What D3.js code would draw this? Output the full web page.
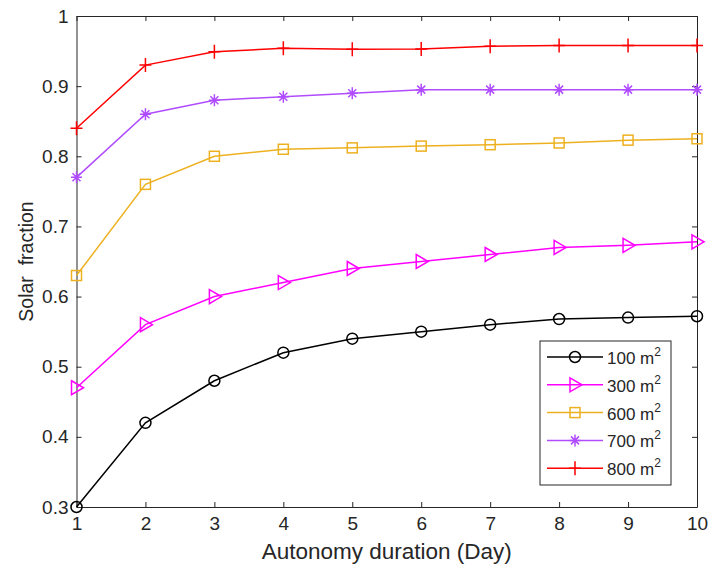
<!DOCTYPE html>
<html>
<head>
<meta charset="utf-8">
<script src="https://cdn.jsdelivr.net/npm/d3@7"></script>
<style>
  body { margin: 0; background: #fff; }
  text { font-family: "Liberation Sans", Arial, sans-serif; fill: #262626; }
</style>
</head>
<body>
<div id="chart"></div>
<script>
// Data
var days = [1, 2, 3, 4, 5, 6, 7, 8, 9, 10];
var area100 = [0.30, 0.42, 0.48, 0.52, 0.54, 0.55, 0.56, 0.568, 0.57, 0.572];
var area300 = [0.47, 0.56, 0.60, 0.62, 0.64, 0.65, 0.66, 0.67, 0.673, 0.678];
var area600 = [0.63, 0.76, 0.80, 0.81, 0.812, 0.8145, 0.8165, 0.819, 0.823, 0.825];
var area700 = [0.77, 0.86, 0.88, 0.885, 0.89, 0.895, 0.895, 0.895, 0.895, 0.895];
var area800 = [0.84, 0.93, 0.949, 0.954, 0.9525, 0.953, 0.957, 0.958, 0.958, 0.958];
var seriesNames = ["100", "300", "600", "700", "800"];
var yTicks = [0.3, 0.4, 0.5, 0.6, 0.7, 0.8, 0.9, 1];

var series = [
  { name: seriesNames[0], values: area100, color: "#000000", marker: "circle" },
  { name: seriesNames[1], values: area300, color: "#ff00ff", marker: "triangle" },
  { name: seriesNames[2], values: area600, color: "#edb120", marker: "square" },
  { name: seriesNames[3], values: area700, color: "#b04cff", marker: "star" },
  { name: seriesNames[4], values: area800, color: "#ff0000", marker: "plus" }
];

var svgWidth = 713;
var svgHeight = 570;
var margin = { top: 16, right: 16, bottom: 63, left: 76.5 };
var width = svgWidth - margin.left - margin.right;
var height = svgHeight - margin.top - margin.bottom;

var svg = d3.select("#chart")
  .append("svg")
  .attr("width", svgWidth)
  .attr("height", svgHeight);

var chart = svg.append("g")
  .attr("transform", `translate(${margin.left}, ${margin.top})`);

var x = d3.scaleLinear().domain([1, 10]).range([0, width]);
var y = d3.scaleLinear().domain([0.3, 1]).range([height, 0]);

// axes with inward ticks
var bottomAxis = d3.axisBottom(x).tickValues(days).tickSizeInner(-5).tickSizeOuter(0).tickPadding(10);
var leftAxis = d3.axisLeft(y).tickValues(yTicks).tickSizeInner(-5).tickSizeOuter(0).tickPadding(8)
  .tickFormat(d3.format("~g"));
var topAxis = d3.axisTop(x).tickValues(days).tickSizeInner(-5).tickSizeOuter(0).tickFormat("");
var rightAxis = d3.axisRight(y).tickValues(yTicks).tickSizeInner(-5).tickSizeOuter(0).tickFormat("");

function styleAxis(g) {
  g.selectAll("path").attr("stroke", "#262626").attr("stroke-width", 1);
  g.selectAll("line").attr("stroke", "#262626").attr("stroke-width", 1);
  g.selectAll("text").style("font-size", "19px").attr("fill", "#262626");
}

chart.append("g").attr("transform", `translate(0, ${height})`).call(bottomAxis).call(styleAxis);
chart.append("g").call(leftAxis).call(styleAxis);
chart.append("g").call(topAxis).call(styleAxis);
chart.append("g").attr("transform", `translate(${width}, 0)`).call(rightAxis).call(styleAxis);

// marker drawing
function drawMarker(g, type, color) {
  if (type === "circle") {
    g.append("circle").attr("r", 5.5).attr("fill", "none").attr("stroke", color).attr("stroke-width", 1.5);
  } else if (type === "triangle") {
    g.append("path").attr("d", "M-5,-7L7,0L-5,7Z").attr("fill", "none").attr("stroke", color).attr("stroke-width", 1.5);
  } else if (type === "square") {
    g.append("rect").attr("x", -5).attr("y", -5).attr("width", 10).attr("height", 10)
      .attr("fill", "none").attr("stroke", color).attr("stroke-width", 1.5);
  } else if (type === "star") {
    g.append("path").attr("d", "M-5.5,0H5.5M0,-6V6M-4,-4L4,4M-4,4L4,-4")
      .attr("stroke", color).attr("stroke-width", 1.5);
  } else if (type === "plus") {
    g.append("path").attr("d", "M-6,0H6M0,-7V7").attr("stroke", color).attr("stroke-width", 1.5);
  }
}

var line = d3.line()
  .x(function(d, i) { return x(days[i]); })
  .y(function(d) { return y(d); });

series.forEach(function(s) {
  chart.append("path")
    .datum(s.values)
    .attr("d", line)
    .attr("fill", "none")
    .attr("stroke", s.color)
    .attr("stroke-width", 1.5);

  s.values.forEach(function(v, i) {
    var g = chart.append("g").attr("transform", `translate(${x(days[i])}, ${y(v)})`);
    drawMarker(g, s.marker, s.color);
  });
});

// legend
var legend = svg.append("g").attr("transform", "translate(540, 341)");
legend.append("rect")
  .attr("width", 131).attr("height", 144)
  .attr("fill", "#fff").attr("stroke", "#262626").attr("stroke-width", 1);

series.forEach(function(s, i) {
  var row = legend.append("g").attr("transform", `translate(0, ${16 + i * 27.8})`);
  row.append("line").attr("x1", 7).attr("x2", 63).attr("y1", 0).attr("y2", 0)
    .attr("stroke", s.color).attr("stroke-width", 1.5);
  var m = row.append("g").attr("transform", "translate(35, 0)");
  drawMarker(m, s.marker, s.color);
  var t = row.append("text").attr("x", 67).attr("y", 7).style("font-size", "17px");
  t.append("tspan").text(s.name + " m");
  t.append("tspan").attr("dy", -8).style("font-size", "12px").text("2");
});

// axis labels
svg.append("text")
  .attr("x", margin.left + width / 2)
  .attr("y", 559)
  .attr("text-anchor", "middle")
  .style("font-size", "22.5px")
  .text("Autonomy duration (Day)");

svg.append("text")
  .attr("transform", `translate(33, ${margin.top + height / 2}) rotate(-90)`)
  .attr("text-anchor", "middle")
  .style("font-size", "19.5px")
  .style("white-space", "pre")
  .text("Solar  fraction");
</script>
</body>
</html>
